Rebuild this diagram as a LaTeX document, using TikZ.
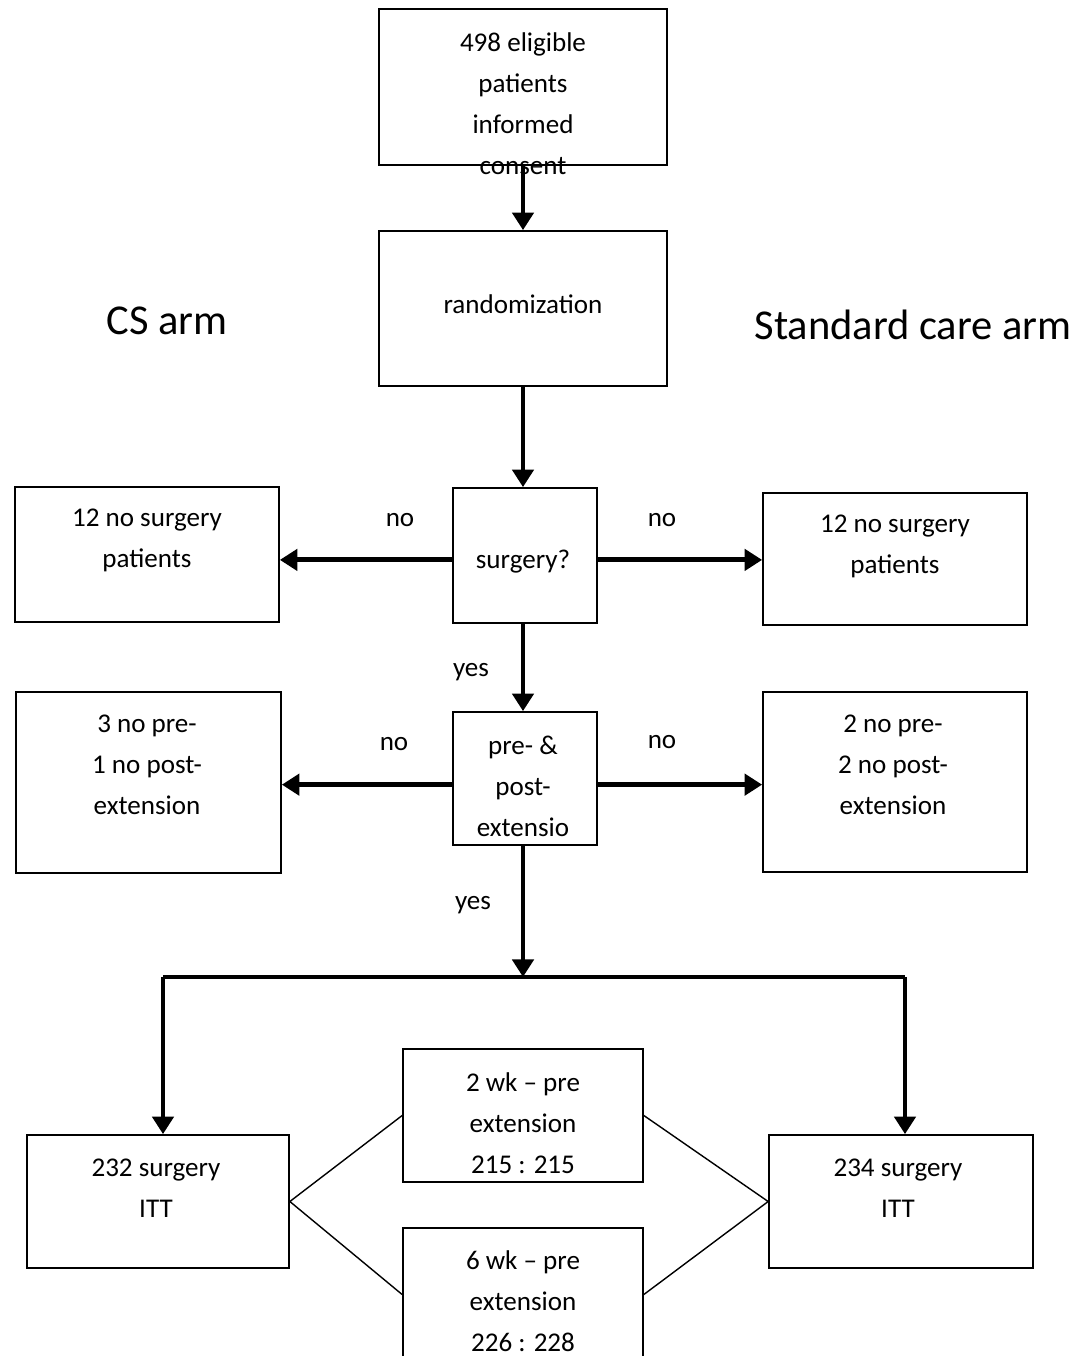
\documentclass[tikz,border=0pt]{standalone}
\usepackage{fontspec}
\setmainfont{Carlito}
\usetikzlibrary{arrows.meta}

\tikzset{
  box/.style 2 args={draw, line width=1pt, minimum width=#1, minimum height=#2, inner sep=0pt},
  txt/.style={align=center, inner sep=0pt, font=\fontsize{15.4}{23.3}\selectfont},
  arm/.style={inner sep=0pt, font=\fontsize{24.2}{28}\selectfont},
  flow/.style={line width=2.8pt, -{Triangle[length=10pt, width=12pt]}},
  thin/.style={line width=0.8pt}
}

\begin{document}
\begin{tikzpicture}[x=0.02cm, y=-0.02cm]
			\useasboundingbox (0,0) rectangle (1091,1356);
			\node[box={5.76cm}{3.12cm}] (cons) at (523,87) {};
			\node[box={5.76cm}{3.10cm}] (rand) at (523,308.5) {};
			\node[box={2.88cm}{2.70cm}] (surg) at (525,555.5) {};
			\node[box={5.28cm}{2.70cm}] (noL1) at (147,554.5) {};
			\node[box={5.28cm}{2.64cm}] (noR1) at (895,559) {};
			\node[box={2.88cm}{2.66cm}] (ext) at (525,778.5) {};
			\node[box={5.30cm}{3.62cm}] (noL2) at (148.5,782.5) {};
			\node[box={5.28cm}{3.60cm}] (noR2) at (895,782) {};
			\node[box={5.24cm}{2.66cm}] (ittL) at (158,1201.5) {};
			\node[box={5.28cm}{2.66cm}] (ittR) at (901,1201.5) {};
			\node[box={4.80cm}{2.66cm}] (wk2) at (523,1115.5) {};
			\node[box={4.80cm}{2.66cm}] (wk6) at (523,1294.5) {};
			\node[txt] (tcons) at (523,103.5) {498 eligible\\patients\\informed\\consent};
			\node[txt] (trand) at (523,304) {randomization};
			\node[txt] (tsurg) at (523,562) {surgery?};
			\node[txt] (tnoL1) at (147,540) {12 no surgery\\patients};
			\node[txt] (tnoR1) at (895,546) {12 no surgery\\patients};
			\node[txt] (text) at (523,786) {pre- \&\\post-\\extensio};
			\node[txt] (tnoL2) at (147,765) {3 no pre-\\1 no post-\\extension};
			\node[txt] (tnoR2) at (893,765) {2 no pre-\\2 no post-\\extension};
			\node[txt] (tittL) at (156,1188) {232 surgery\\ITT};
			\node[txt] (tittR) at (898,1188) {234 surgery\\ITT};
			\node[txt] (twk2) at (523,1123) {2 wk -- pre\\extension\\215 : 215};
			\node[txt] (twk6) at (523,1301) {6 wk -- pre\\extension\\226 : 228};
			\node[arm] (csarm) at (167,321) {CS arm};
			\node[arm] (scarm) at (913,325) {Standard care arm};
			\node[txt] (no1) at (400,520) {no};
			\node[txt] (no2) at (662,520) {no};
			\node[txt] (no3) at (394,744) {no};
			\node[txt] (no4) at (662,742) {no};
			\node[txt] (yes1) at (471,672) {yes};
			\node[txt] (yes2) at (473,905) {yes};
			\coordinate (split) at (523,977);
			\coordinate (splitL) at (163,977);
			\coordinate (splitR) at (905,977);
			\draw[flow] (cons.south -| rand.north) -- (rand.north);
			\draw[flow] (rand.south) -- (rand.south |- surg.north);
			\draw[flow] ([yshift=-2.5]surg.west) -- ([yshift=-2.5]surg.west -| noL1.east);
			\draw[flow] ([yshift=-2.5]surg.east) -- ([yshift=-2.5]surg.east -| noR1.west);
			\draw[flow] (surg.south -| rand.south) -- (rand.south |- ext.north);
			\draw[flow] ([yshift=-3.5]ext.west) -- ([yshift=-3.5]ext.west -| noL2.east);
			\draw[flow] ([yshift=-3.5]ext.east) -- ([yshift=-3.5]ext.east -| noR2.west);
			\draw[flow] (ext.south -| split) -- (split);
			\draw[line width=2.8pt] (splitL) -- (splitR);
			\draw[flow] (splitL) -- (splitL |- ittL.north);
			\draw[flow] (splitR) -- (splitR |- ittR.north);
			\draw[thin] (wk2.west) -- (ittL.east) -- (wk6.west);
			\draw[thin] (wk2.east) -- (ittR.west) -- (wk6.east);
		\end{tikzpicture}
\end{document}
